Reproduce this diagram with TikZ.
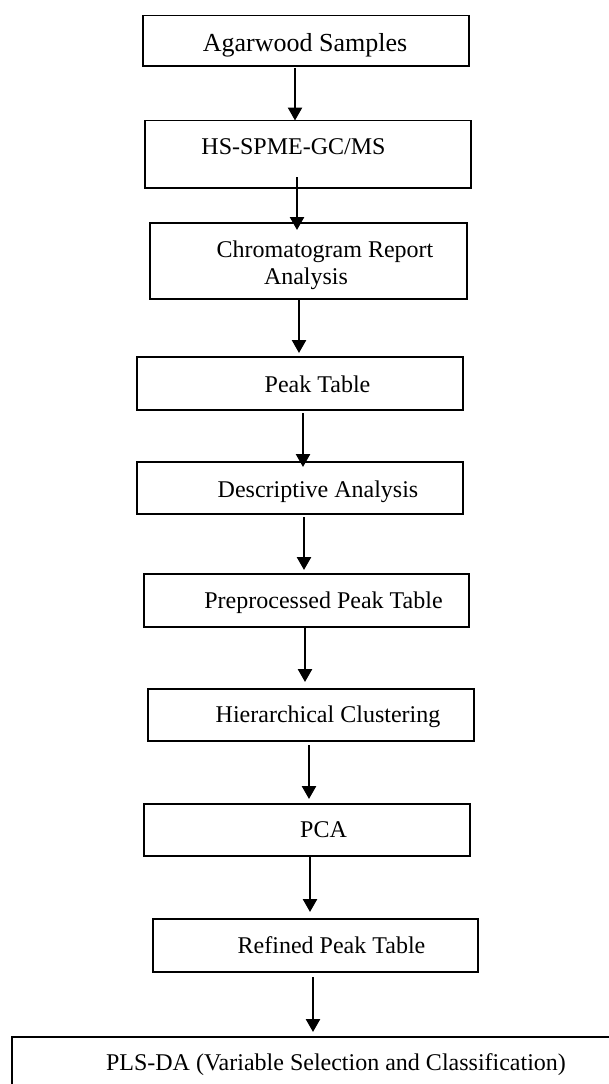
\documentclass[tikz,border=0pt]{standalone}
\usepackage{fontspec}
\setmainfont{Liberation Serif}
\usetikzlibrary{arrows.meta, positioning, calc}

\begin{document}
\begin{tikzpicture}[x=1pt, y=-1pt, every node/.style={outer sep=0pt}]
\tikzstyle{stepbox}=[draw, line width=1.8pt, inner sep=0pt, minimum width=326pt, minimum height=52pt]
\tikzstyle{steplabel}=[anchor=base, inner sep=0pt, font=\fontsize{24}{28}\selectfont]
\tikzstyle{flow}=[line width=2.5pt, -{Triangle[length=13pt, width=14pt]}]

\useasboundingbox (0,0) rectangle (608,1084);

% boxes
\node (agar) [stepbox, minimum height=50.5pt] at (306,40.75) {};
\node (hsms) [stepbox, minimum height=67.5pt] at (308,154.25) {};
\node (chrom) [stepbox, minimum width=317pt, minimum height=76pt] at (308.5,261) {};
\node (peak) [stepbox, minimum height=53pt] at (300,383.5) {};
\node (desc) [stepbox] at (300,488) {};
\node (prep) [stepbox, minimum width=325pt, minimum height=53pt] at (306.5,600.5) {};
\node (hier) [stepbox] at (311,715) {};
\node (pca) [stepbox] at (307,830) {};
\node (refined) [stepbox, minimum width=325pt, minimum height=53pt] at (315.5,945.5) {};
\node (plsda) [stepbox, minimum width=620pt, minimum height=70pt, anchor=north west] at (12,1037) {};

% texts
\node (agarlbl) [steplabel, font=\fontsize{26}{30}\selectfont] at (305,51) {Agarwood Samples};
\node (hsmslbl) [steplabel] at (293.5,154) {HS-SPME-GC/MS};
\node (chromlbl) [steplabel] at (325,257) {Chromatogram Report};
\node (chromlblb) [steplabel] at (306,284) {Analysis};
\node (peaklbl) [steplabel] at (317.5,392) {Peak Table};
\node (desclbl) [steplabel] at (318,497) {Descriptive Analysis};
\node (preplbl) [steplabel] at (323.5,608) {Preprocessed Peak Table};
\node (hierlbl) [steplabel] at (328,722) {Hierarchical Clustering};
\node (pcalbl) [steplabel] at (323.5,837) {PCA};
\node (refinedlbl) [steplabel] at (331.5,953) {Refined Peak Table};
\node (plsdalbl) [steplabel] at (336,1070) {PLS-DA (Variable Selection and Classification)};

% arrows
\draw [flow] ($(agar.south -| 295,0)+(0,2)$) -- (hsms.north -| 295,0);
\draw [flow] ($(hsms.south -| 297,0)+(0,-11)$) -- ($(chrom.north -| 297,0)+(0,7)$);
\draw [flow] (chrom.south -| 299,0) -- ($(peak.north -| 299,0)+(0,-4)$);
\draw [flow] ($(peak.south -| 303,0)+(0,3)$) -- ($(desc.north -| 303,0)+(0,5)$);
\draw [flow] ($(desc.south -| 304,0)+(0,3)$) -- ($(prep.north -| 304,0)+(0,-4)$);
\draw [flow] ($(prep.south -| 305,0)+(0,1)$) -- ($(hier.north -| 305,0)+(0,-7)$);
\draw [flow] ($(hier.south -| 309,0)+(0,4)$) -- ($(pca.north -| 309,0)+(0,-5)$);
\draw [flow] ($(pca.south -| 310,0)+(0,1)$) -- ($(refined.north -| 310,0)+(0,-7)$);
\draw [flow] ($(refined.south -| 313,0)+(0,5)$) -- ($(plsda.north -| 313,0)+(0,-5)$);

\end{tikzpicture}
\end{document}
